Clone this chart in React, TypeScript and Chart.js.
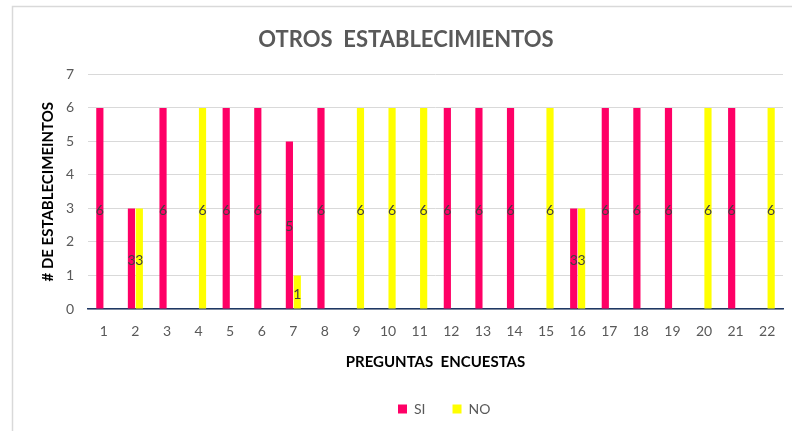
import React, { useEffect, useRef } from "react";
import { Chart, registerables } from "chart.js";

Chart.register(...registerables);

const categories = ["1", "2", "3", "4", "5", "6", "7", "8", "9", "10", "11", "12", "13", "14", "15", "16", "17", "18", "19", "20", "21", "22"];
const siValues = [6, 3, 6, null, 6, 6, 5, 6, null, null, null, 6, 6, 6, null, 3, 6, 6, 6, null, 6, null];
const noValues = [null, 3, null, 6, null, null, 1, null, 6, 6, 6, null, null, null, 6, 3, null, null, null, 6, null, 6];
const yMin = 0;
const yMax = 7;
const yStep = 1;

const FONT = "Lato, 'Open Sans', 'Liberation Sans', sans-serif";
const LEGEND_PAD = 27;

const framePlugin = {
  id: "frame",
  beforeDraw(chart: any) {
    const ctx = chart.ctx;
    ctx.save();
    ctx.strokeStyle = "#d9d9d9";
    ctx.lineWidth = 1.5;
    ctx.beginPath();
    ctx.moveTo(12.5, 431);
    ctx.lineTo(12.5, 6.5);
    ctx.lineTo(792, 6.5);
    ctx.stroke();
    ctx.restore();
  },
};

const legendShift = {
  id: "legendShift",
  afterLayout(chart: any) {
    const lg = chart.legend;
    if (!lg) return;
    const w = lg.right - lg.left;
    lg.left = 398 - LEGEND_PAD;
    lg.right = lg.left + w;
  },
};

const labelPlugin = {
  id: "barLabels",
  afterDatasetsDraw(chart: any) {
    const ctx = chart.ctx;
    ctx.save();
    ctx.font = `14px ${FONT}`;
    ctx.fillStyle = "#404040";
    ctx.textAlign = "center";
    ctx.textBaseline = "middle";
    chart.data.datasets.forEach((ds: any, i: number) => {
      const meta = chart.getDatasetMeta(i);
      meta.data.forEach((el: any, j: number) => {
        const v = ds.data[j];
        if (v === null || v === undefined || v === 0) return;
        const y = (el.y + el.base) / 2 + 2;
        ctx.fillText(String(v), el.x, y);
      });
    });
    ctx.restore();
  },
};

export default function App() {
  const ref = useRef<HTMLCanvasElement>(null);
  useEffect(() => {
    if (!ref.current) return;
    const chart = new Chart(ref.current, {
      type: "bar",
      data: {
        labels: categories,
        datasets: [
          { label: "SI", data: siValues, backgroundColor: "#ff0066", borderWidth: 0 },
          { label: "NO", data: noValues, backgroundColor: "#ffff00", borderWidth: 0 },
        ],
      },
      options: {
        responsive: false,
        animation: false,
        categoryPercentage: 0.5,
        barPercentage: 0.91,
        layout: { padding: { left: 29, right: 9, top: 10, bottom: 5 } },
        plugins: {
          title: {
            display: true,
            text: "OTROS  ESTABLECIMIENTOS",
            color: "#595959",
            font: { family: FONT, size: 22, weight: "bold" },
            padding: { top: 17, bottom: 21 },
          },
          legend: {
            position: "bottom",
            align: "start",
            labels: {
              color: "#595959",
              font: { family: FONT, size: 14 },
              boxWidth: 9,
              boxHeight: 9,
              padding: LEGEND_PAD,
            },
          },
          tooltip: { enabled: false },
        },
        scales: {
          x: {
            grid: { display: false, drawTicks: false },
            border: { display: true, color: "#1f3864", width: 1.5 },
            ticks: { color: "#595959", font: { family: FONT, size: 14 }, padding: 14 },
            title: {
              display: true,
              text: "PREGUNTAS  ENCUESTAS",
              color: "#000000",
              font: { family: FONT, size: 15, weight: "bold" },
              padding: { top: 0, bottom: 4 },
            },
            afterFit(scale: any) {
              scale.height = 66;
            },
          },
          y: {
            min: yMin,
            max: yMax,
            grid: { color: "#d9d9d9", lineWidth: 1, drawTicks: false },
            border: { display: false },
            ticks: { stepSize: yStep, color: "#595959", font: { family: FONT, size: 14 }, padding: 14 },
            title: {
              display: true,
              text: "# DE ESTABLECIMEINTOS",
              color: "#000000",
              font: { family: FONT, size: 15, weight: "bold" },
              padding: { top: 10, bottom: 0 },
            },
            afterFit(scale: any) {
              scale.width = 59;
            },
          },
        },
      },
      plugins: [framePlugin, legendShift, labelPlugin],
    });
    return () => chart.destroy();
  }, []);
  return (
    <div style={{ position: "absolute", left: 0, top: 0, width: 792, height: 431, background: "#ffffff" }}>
      <canvas ref={ref} width={792} height={431} />
    </div>
  );
}
